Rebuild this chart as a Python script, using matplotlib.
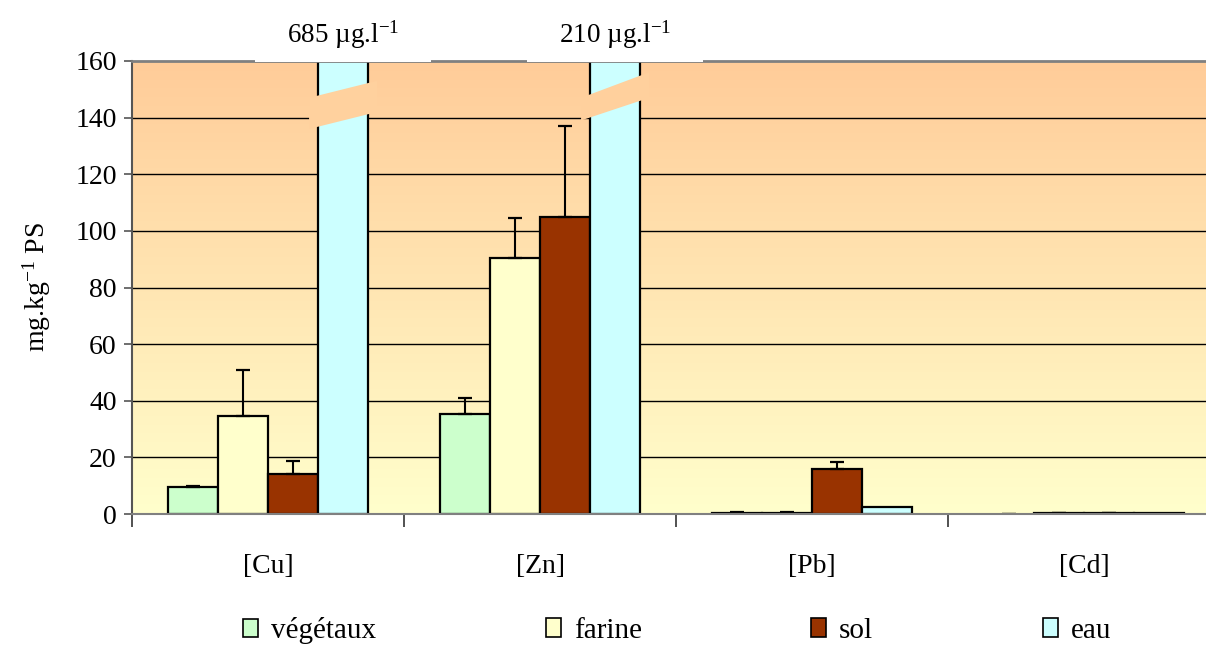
#plot.py
#Bar chart of metal contents (Cu, Zn, Pb, Cd) in plants, flour, soil and water,
#with the two water bars broken at the top of the axis.

import numpy as np
import matplotlib.pyplot as plt
from matplotlib.patches import Rectangle, Polygon, Patch

plt.rcParams['font.family'] = ['Liberation Serif', 'DejaVu Serif']
plt.rcParams['mathtext.fontset'] = 'custom'
plt.rcParams['mathtext.rm'] = 'Liberation Serif'
plt.rcParams['mathtext.it'] = 'Liberation Serif:italic'

# DATA
metals = ['[Cu]', '[Zn]', '[Pb]', '[Cd]']
series = ['végétaux', 'farine', 'sol', 'eau']
vegetaux = [9.4, 35.3, 0.5, 0.0]
vegetaux_err = [0.6, 5.7, 0.2, 0.1]
farine = [34.7, 90.4, 0.5, 0.3]
farine_err = [16.2, 14.2, 0.2, 0.1]
sol = [14.2, 105.0, 15.8, 0.3]
sol_err = [4.4, 32.1, 2.7, 0.1]
eau = [685, 210, 2.4, 0.3]          # water, in µg.l-1
eau_err = [0, 0, 0, 0]
yticks = [0, 20, 40, 60, 80, 100, 120, 140, 160]

# STYLE
colors = ['#CCFFCC', '#FFFFCC', '#993300', '#CCFFFF']
bg_bottom = np.array([255, 255, 204]) / 255
bg_top = np.array([255, 204, 153]) / 255
bar_w = 0.184
ymax = yticks[-1]


def bg_color(y):
    #Returns the background gradient colour at the data height y.
    f = y / ymax
    return bg_bottom + (bg_top - bg_bottom) * f


fig = plt.figure(figsize=(12.06, 6.47), dpi=100)
ax = fig.add_axes([132/1206, 133/647, 1088/1206, 453/647])

# gradient background of the plot area
grad = np.linspace(0, 1, 256)[:, None, None]
img = bg_bottom + (bg_top - bg_bottom) * grad
ax.imshow(img, origin='lower', extent=[0, 1, 0, 1], transform=ax.transAxes,
          aspect='auto', zorder=0)

for t in yticks[1:-1]:
    ax.axhline(t, color='black', lw=1, zorder=1)

x = np.arange(len(metals))
data = [(vegetaux, vegetaux_err), (farine, farine_err), (sol, sol_err), (eau, eau_err)]
for j, (vals, errs) in enumerate(data):
    vals = np.array(vals, dtype=float)
    errs = np.array(errs, dtype=float)
    xs = x + (j - 1.5) * bar_w
    lws = [1.6 if v > 0 else 0 for v in vals]
    ax.bar(xs, vals, bar_w, color=colors[j], edgecolor='black', linewidth=lws, zorder=2)
    keep = errs > 0
    if keep.any():
        ax.errorbar(xs[keep], vals[keep], yerr=[np.zeros(keep.sum()), errs[keep]],
                    fmt='none', ecolor='black', elinewidth=1.5, capsize=5,
                    capthick=1.6, zorder=2.5)

# broken water bars: slanted band + value written above the axis
breaks = {0: (136, 142, 147, 153), 1: (139, 147, 147, 156)}
for i, v in enumerate(eau):
    if v <= ymax:
        continue
    xc = x[i] + 1.5 * bar_w
    lo_l, lo_r, hi_l, hi_r = breaks[i]
    band = Polygon([(xc - 0.125, lo_l), (xc + 0.125, lo_r),
                    (xc + 0.125, hi_r), (xc - 0.125, hi_l)],
                   closed=True, facecolor=bg_color((lo_l + hi_r) / 2),
                   edgecolor='none', zorder=3)
    ax.add_patch(band)
    ax.add_patch(Rectangle((xc - 0.325, 0.997), 0.65, 0.3,
                           transform=ax.get_xaxis_transform(), facecolor='white',
                           edgecolor='none', clip_on=False, zorder=3))
    ax.text(xc, 1.04, f'{v:g} µg.l$^{{\\mathregular{{-1}}}}$',
            transform=ax.get_xaxis_transform(), ha='center', va='baseline',
            fontsize=19.5, zorder=4)

ax.set_xlim(-0.5, len(metals) - 0.5)
ax.set_ylim(0, ymax)
ax.set_yticks(yticks)
ax.set_xticks(x)
ax.set_xticklabels(metals)
ax.set_xticks(np.arange(len(metals) + 1) - 0.5, minor=True)
ax.tick_params(axis='y', direction='out', length=6, width=1.2, color='#555555',
               labelsize=20, pad=5)
ax.tick_params(axis='x', which='major', length=0, labelsize=20, pad=29)
ax.tick_params(axis='x', which='minor', direction='out', length=9, width=1.2,
               color='#333333')

ax.spines['right'].set_visible(False)
ax.spines['top'].set_color('#808080')
ax.spines['top'].set_linewidth(2)
ax.spines['bottom'].set_color('#808080')
ax.spines['bottom'].set_linewidth(1.5)
ax.spines['left'].set_color('#555555')
ax.spines['left'].set_linewidth(1.5)

ax.set_ylabel('mg.kg$^{\\mathregular{-1}}$ PS', fontsize=20)
ax.yaxis.set_label_coords(-0.073, 0.5)

# legend, one entry per box so the spacing follows the original
leg_x = [243, 546, 811, 1043]
for j, name in enumerate(series):
    h = Patch(facecolor=colors[j], edgecolor='black', linewidth=1.2)
    fig.legend(handles=[h], labels=[name], loc='center left',
               bbox_to_anchor=(leg_x[j] / 1206, 1 - 631 / 647), frameon=False,
               prop={'family': ['Liberation Serif', 'DejaVu Serif'], 'size': 21},
               handlelength=0.5, handleheight=0.6,
               handletextpad=0.45, borderpad=0, borderaxespad=0)

fig.savefig('out.png', dpi=100)
